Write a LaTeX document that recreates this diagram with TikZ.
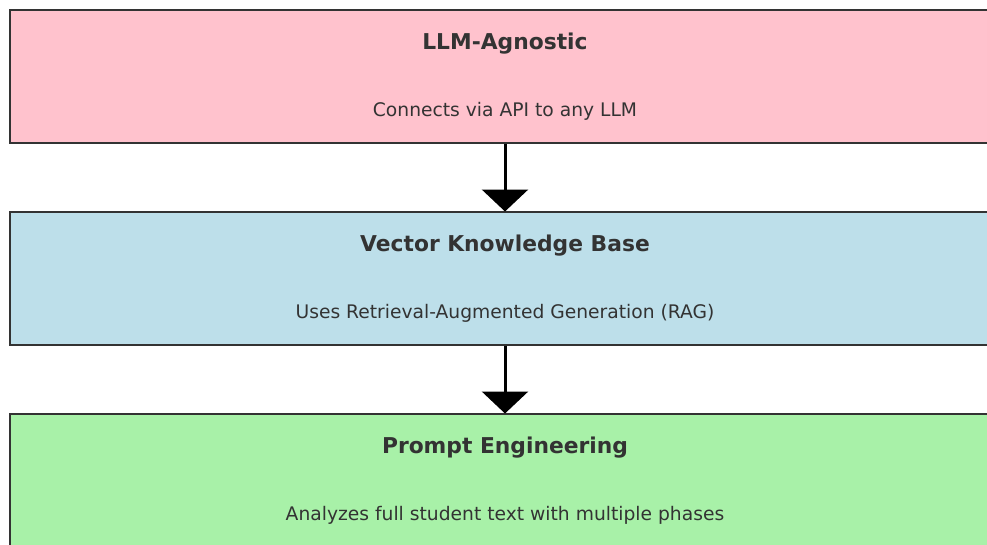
\documentclass[tikz,border=0pt]{standalone}
\usepackage{fontspec}
\setmainfont{DejaVu Sans}
\usepackage{tikz}
\usetikzlibrary{calc}
\usetikzlibrary{arrows.meta}
\definecolor{color_llm}{RGB}{255,194,205}
\definecolor{color_kb}{RGB}{189,223,234}
\definecolor{color_prompt}{RGB}{168,241,168}
\definecolor{color_text}{HTML}{333333}
\definecolor{color_edge}{HTML}{333333}

\begin{document}
\begin{tikzpicture}[x=1pt, y=-1pt]
  \tikzset{ % Specifications for style of nodes:
      base/.style = {rectangle, draw=color_edge, line width=2pt, minimum width=990pt, minimum height=133pt, inner sep=0pt},
      llm/.style = {base, fill=color_llm},
      kb/.style = {base, fill=color_kb},
      prompt/.style = {base, fill=color_prompt},
      head/.style = {text=color_text, font=\fontsize{21.8}{25}\selectfont\bfseries, inner sep=0pt},
      desc/.style = {text=color_text, font=\fontsize{18.7}{22}\selectfont, inner sep=0pt},
      flow/.style = {line width=3pt, -{Triangle[width=46pt, length=22pt]}, shorten >=-1pt},
  }
  \useasboundingbox (0,0) rectangle (987,544);
  \clip (0,0) rectangle (987,544);

  \node (llm) [llm] at (505,76) {};
  \node (kb) [kb] at (505,278) {};
  \node (prompt) [prompt] at (505,480) {};

  \node (llmhead) [head] at ($(llm.center)+(0,-32)$) {LLM-Agnostic};
  \node (llmdesc) [desc] at ($(llm.center)+(0,35)$) {Connects via API to any LLM};
  \node (kbhead) [head] at ($(kb.center)+(0,-32)$) {Vector Knowledge Base};
  \node (kbdesc) [desc] at ($(kb.center)+(0,35)$) {Uses Retrieval-Augmented Generation (RAG)};
  \node (prompthead) [head] at ($(prompt.center)+(0,-32)$) {Prompt Engineering};
  \node (promptdesc) [desc] at ($(prompt.center)+(0,35)$) {Analyzes full student text with multiple phases};

  \draw[flow] (llm.south) -- (kb.north);
  \draw[flow] (kb.south) -- (prompt.north);
\end{tikzpicture}
\end{document}
